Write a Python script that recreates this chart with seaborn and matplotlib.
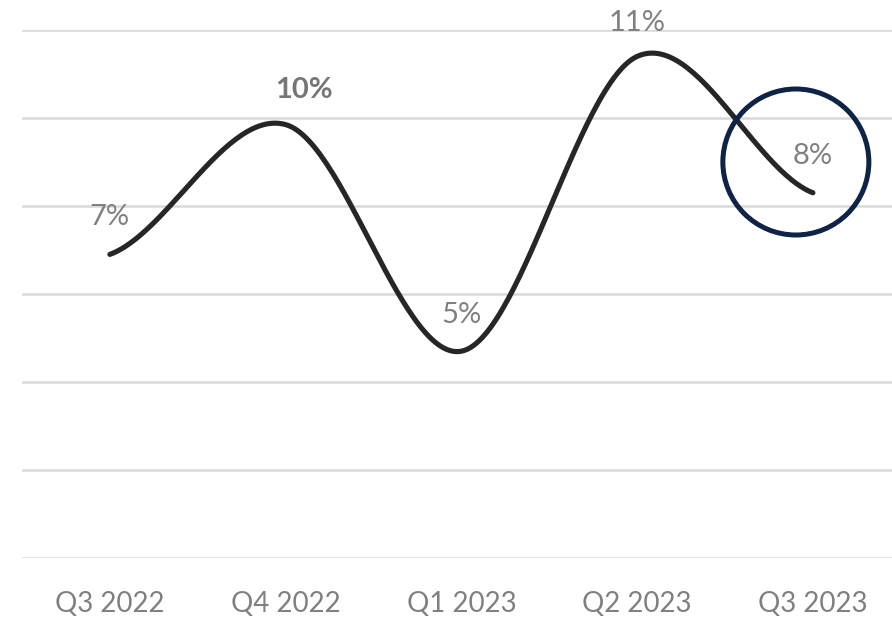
import numpy as np
import pandas as pd
import matplotlib
matplotlib.use("Agg")
import matplotlib.pyplot as plt
from matplotlib.patches import Ellipse
import seaborn as sns

# Quarterly values (fraction)
quarters = ["Q3 2022", "Q4 2022", "Q1 2023", "Q2 2023", "Q3 2023"]
values = [0.069, 0.0985, 0.047, 0.114, 0.083]
bold_labels = [False, True, False, False, False]
y_ticks = [0.0, 0.02, 0.04, 0.06, 0.08, 0.10, 0.12]


def smooth_curve(y, samples=60):
    """Catmull-Rom style smoothing through every point (spreadsheet 'smoothed line')."""
    y = np.asarray(y, dtype=float)
    n = len(y)
    m = np.zeros(n)
    m[1:-1] = (y[2:] - y[:-2]) / 2.0
    m[0] = (y[1] - y[0]) / 2.0
    m[-1] = (y[-1] - y[-2]) / 2.0
    xs, ys = [], []
    for i in range(n - 1):
        t = np.linspace(0, 1, samples, endpoint=(i == n - 2))
        h00 = 2 * t**3 - 3 * t**2 + 1
        h10 = t**3 - 2 * t**2 + t
        h01 = -2 * t**3 + 3 * t**2
        h11 = t**3 - t**2
        xs.append(i + t)
        ys.append(h00 * y[i] + h10 * m[i] + h01 * y[i + 1] + h11 * m[i + 1])
    return np.concatenate(xs), np.concatenate(ys)


sns.set_theme(style="white")
plt.rcParams["font.family"] = ["Lato", "DejaVu Sans"]

fig = plt.figure(figsize=(8.92, 6.17), dpi=100)
ax = fig.add_axes([22 / 892, 1 - 558 / 617, 1 - 22 / 892, (558 - 30) / 617])

sx, sy = smooth_curve(values)
curve = pd.DataFrame({"x": sx, "y": sy})
sns.lineplot(data=curve, x="x", y="y", ax=ax, color="#262626", linewidth=3.7,
             sort=False, solid_capstyle="round", zorder=3)

ax.set_xlim(-0.5, 4.45)
ax.set_ylim(y_ticks[0], y_ticks[-1])
ax.set_yticks(y_ticks)
ax.set_yticklabels([])
ax.set_xticks(range(len(quarters)))
ax.set_xticklabels(quarters, color="#808080", fontsize=20)
ax.tick_params(axis="x", length=0, pad=24)
ax.tick_params(axis="y", length=0)
ax.grid(axis="y", color="#d9d9d9", linewidth=1.8)
ax.grid(axis="x", visible=False)
for s in ax.spines.values():
    s.set_visible(False)
ax.set_xlabel("")
ax.set_ylabel("")

# Data labels above each point
label_offsets = [(0, 37), (18, 35), (0, 36), (0, 33), (0, 37)]
for i, (v, b, off) in enumerate(zip(values, bold_labels, label_offsets)):
    ax.annotate(f"{round(v * 100):.0f}%", xy=(i, v), xytext=(off[0] * 0.72, off[1] * 0.72),
                textcoords="offset points", ha="center", va="center",
                fontsize=21, color="#767676" if b else "#808080",
                fontweight="bold" if b else "normal", zorder=4)

# Highlight ring around the latest quarter
px_x = (4.45 + 0.5) / (892 - 22)          # data units per pixel (x)
px_y = (y_ticks[-1] - y_ticks[0]) / (558 - 30)  # data units per pixel (y)
ring = Ellipse((3.903, 0.09), width=146 * px_x, height=146 * px_y,
               fill=False, edgecolor="#0e2345", linewidth=3.6, zorder=5)
ax.add_patch(ring)

fig.savefig("out.png", dpi=100)
